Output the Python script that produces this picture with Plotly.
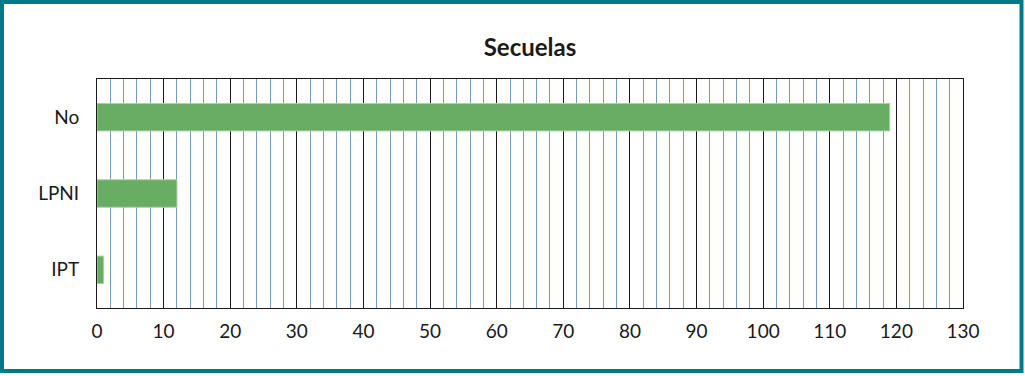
import plotly.graph_objects as go

categories = ["No", "LPNI", "IPT"]
values = [119, 12, 1]
title_text = "Secuelas"

W, H = 1025, 376
L, R, T, B = 97, 62, 79, 68
pw, ph = W - L - R, H - T - B

def px_x(x):
    return (x - L) / pw

def px_y(y):
    return (H - B - y) / ph

fig = go.Figure(go.Bar(
    y=categories, x=values, orientation="h",
    marker=dict(color="#69ac64", line=dict(color="#a8d4a0", width=1)),
    width=0.36,
))

fig.update_layout(
    width=W, height=H,
    margin=dict(l=L, r=R, t=T, b=B),
    plot_bgcolor="white", paper_bgcolor="white",
    showlegend=False,
    font=dict(family="Lato, Noto Sans, sans-serif", color="#1a1a1a", size=19),
    title=dict(text="<b>" + title_text + "</b>", x=0.5, xref="paper", xanchor="center",
               y=1 - 48 / H, yanchor="middle", font=dict(size=24, color="#1a1a1a")),
    xaxis=dict(range=[0, 130], dtick=10, tick0=0, showgrid=True, gridcolor="#1a1a1a", gridwidth=1,
               minor=dict(dtick=2, tick0=0, showgrid=True, gridcolor="#729cc0", gridwidth=1),
               showline=True, linecolor="#1a1a1a", linewidth=1, mirror=True,
               zeroline=False, ticks="", ticklabelstandoff=6, fixedrange=True),
    yaxis=dict(autorange="reversed", showline=True, linecolor="#1a1a1a", linewidth=1, mirror=True,
               showgrid=False, ticks="", ticklabelstandoff=13, fixedrange=True),
    bargap=0.64,
    shapes=[dict(type="rect", xref="paper", yref="paper",
                 x0=px_x(2), x1=px_x(1021.5), y0=px_y(371), y1=px_y(2),
                 line=dict(color="#007a8a", width=4), fillcolor="rgba(0,0,0,0)", layer="above")],
)

fig.write_html("out.html", config={"displayModeBar": False, "staticPlot": True},
               post_script="document.body.style.margin='0';document.body.style.overflow='hidden';")
